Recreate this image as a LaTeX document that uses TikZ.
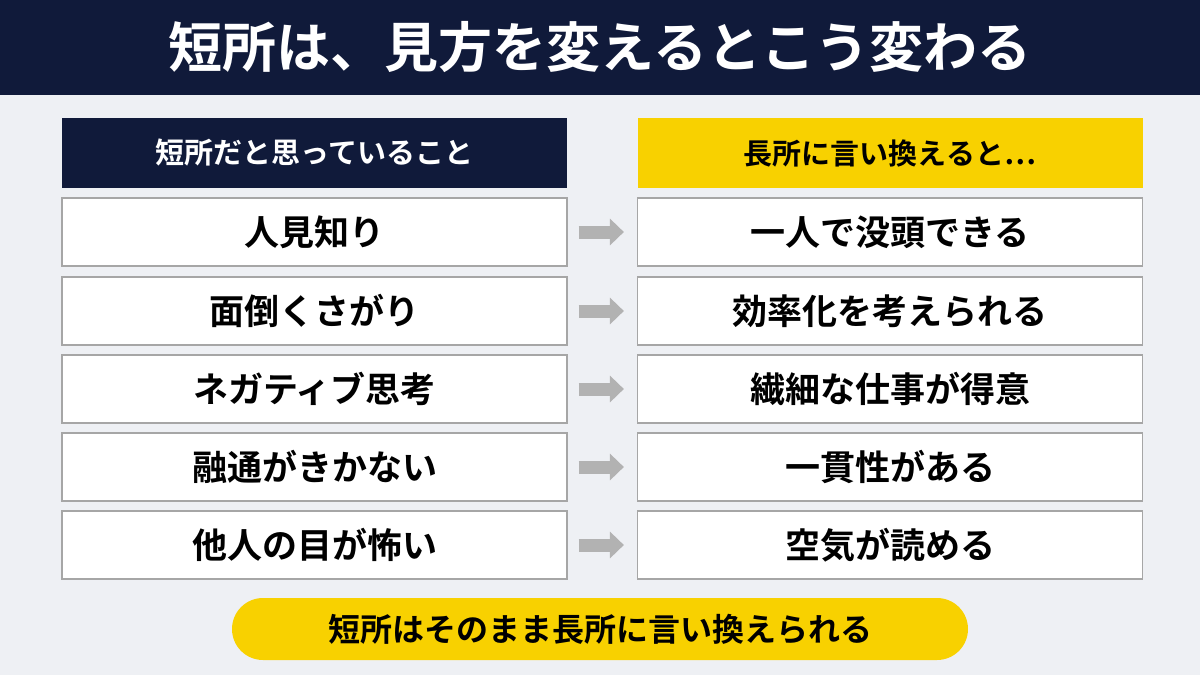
\documentclass[tikz,border=0pt]{standalone}
\usepackage{fontspec}
\newfontfamily\cjk{Noto Sans CJK JP}[BoldFont={Noto Sans CJK JP Bold}]
\usetikzlibrary{arrows.meta}
\definecolor{navy}{HTML}{101A3A}
\definecolor{ylw}{HTML}{F8D100}
\definecolor{bg}{HTML}{EEF0F4}
\begin{document}
\begin{tikzpicture}[x=1pt,y=-1pt,
  cell/.style={draw=gray!70,line width=1.2pt,fill=white,minimum width=505pt,minimum height=68pt,font=\cjk\bfseries\fontsize{35}{38}\selectfont,text=black},
  hdr/.style={minimum width=505pt,minimum height=70pt,font=\cjk\bfseries\fontsize{29}{32}\selectfont},
  arr/.style={-{Triangle[length=14pt,width=26pt]},line width=13pt,draw=gray!60}]
\useasboundingbox (0,0) rectangle (1200,675);
\fill[bg] (0,0) rectangle (1200,675);
\fill[navy] (0,0) rectangle (1200,95);
\node[text=white,font=\cjk\bfseries\fontsize{54}{58}\selectfont] (title) at (600,47) {短所は、見方を変えるとこう変わる};
\node[hdr,fill=navy,text=white] (hl) at (314.5,153) {短所だと思っていること};
\node[hdr,fill=ylw,text=black] (hr) at (890,153) {長所に言い換えると…};
\foreach \i/\y/\a/\b in {1/232/人見知り/一人で没頭できる,2/311/面倒くさがり/効率化を考えられる,3/389/ネガティブ思考/繊細な仕事が得意,4/467/融通がきかない/一貫性がある,5/545/他人の目が怖い/空気が読める}{
  \node[cell] (l\i) at (314.5,\y) {\a};
  \node[cell] (r\i) at (890,\y) {\b};
  \draw[arr] ([xshift=11pt]l\i.east) -- ([xshift=-13pt]r\i.west);
}
\node[fill=ylw,rounded corners=31pt,minimum width=736pt,minimum height=62pt,font=\cjk\bfseries\fontsize{32}{34}\selectfont] (bot) at (600,629) {短所はそのまま長所に言い換えられる};
\end{tikzpicture}
\end{document}
